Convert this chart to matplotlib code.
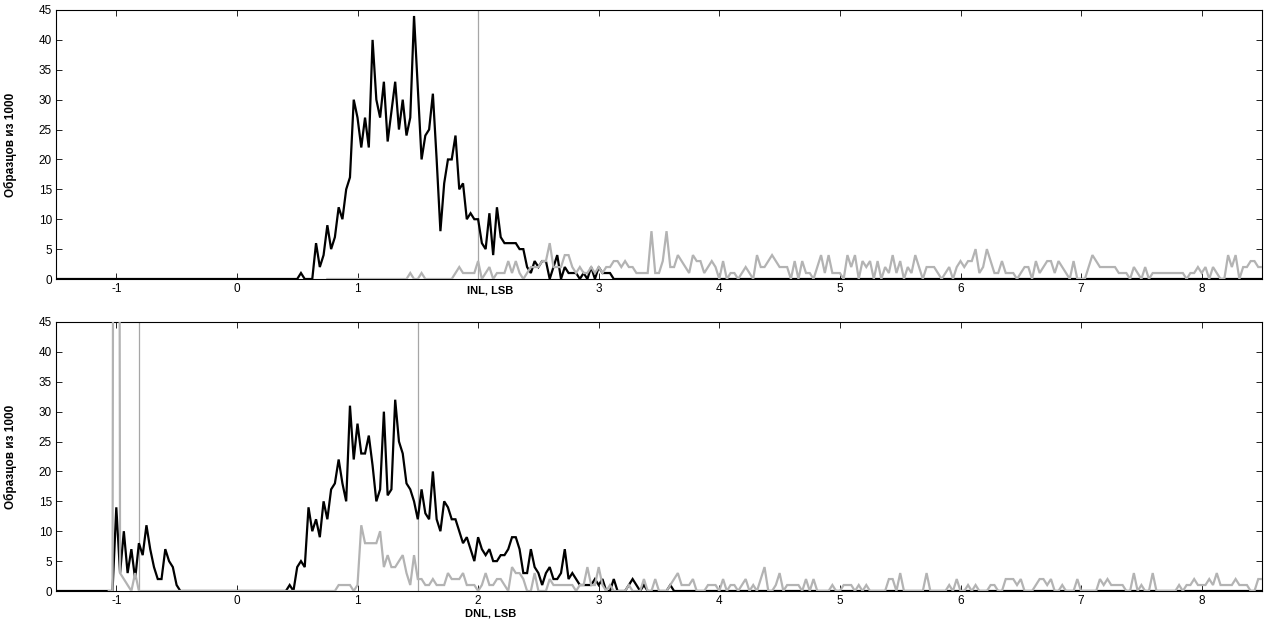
import numpy as np
import matplotlib
matplotlib.use("Agg")
import matplotlib.pyplot as plt

# ---------------- data (histogram counts, bin width 1/32 LSB) ----------------
STEP = 1 / 32
X_MIN, X_MAX = -1.5, 8.5

# INL panel
inl_black_start = 0.5
inl_black = [0, 1, 0, 0, 0, 6, 2, 4, 9, 5, 7, 12, 10, 15, 17, 30, 27, 22, 27, 22,
             40, 30, 27, 33, 23, 28, 33, 25, 30, 24, 27, 44, 32, 20, 24, 25, 31, 20, 8, 16,
             20, 20, 24, 15, 16, 10, 11, 10, 10, 6, 5, 11, 4, 12, 7, 6, 6, 6, 6, 5,
             5, 2, 1, 3, 2, 3, 3, 0, 2, 4, 0, 2, 1, 1, 1, 0, 1, 0, 2, 0,
             2, 1, 1, 1, 0]
inl_grey_start = 0.75
inl_grey = [0] * 20 + [
    0, 0, 1, 0, 0, 1, 0, 0, 0, 0, 0, 0, 0, 0, 1, 2, 1, 1, 1, 1,
    3, 0, 1, 2, 0, 1, 1, 1, 3, 1, 3, 1, 0, 1, 2, 2, 2, 3, 3, 6, 2, 2, 2, 4, 4, 2, 1, 2, 1, 1, 2, 1,
    2, 1, 2, 2, 3, 3, 2, 3, 2, 2, 1, 1, 1, 1, 8, 1, 1, 3, 8, 2, 2, 4, 3, 2, 1, 4, 3, 3, 1, 2, 3, 2,
    0, 3, 0, 1, 1, 0, 1, 2, 1, 0, 4, 2, 2, 3, 4, 3, 2, 2, 2, 0, 3, 0, 3, 1, 1, 0, 2, 4, 1, 4, 1, 1,
    1, 0, 4, 2, 4, 0, 3, 2, 3, 0, 3, 0, 2, 1, 4, 1, 3, 0, 2, 1, 4, 2, 0, 2, 2, 2, 1, 0, 1, 2, 0, 2,
    3, 2, 3, 3, 5, 1, 2, 5, 3, 1, 1, 3, 1, 1, 1, 0, 1, 2, 2, 0, 3, 1, 2, 3, 3, 1, 3, 2, 1, 0, 3, 0,
    0, 0, 2, 4, 3, 2, 2, 2, 2, 2, 1, 1, 1, 0, 2, 1, 0, 2, 0, 1, 1, 1, 1, 1, 1, 1, 1, 1, 0, 1, 1, 2,
    1, 2, 0, 2, 1, 0, 0, 4, 2, 4, 0, 2, 2, 3, 3, 2, 2]
inl_ref = [2.0]

# DNL panel
dnl_black_a_start = -1.03125
dnl_black_a = [0, 14, 3, 10, 3, 7, 2, 8, 6, 11, 7, 4, 2, 2, 7, 5, 4, 1, 0]
dnl_black_b_start = 0.375
dnl_black_b = [0, 0, 1, 0, 4, 5, 4, 14, 10, 12, 9, 15, 12, 17, 18, 22, 18, 15, 31, 22,
               28, 23, 23, 26, 21, 15, 17, 30, 16, 17, 32, 25, 23, 18, 17, 15, 12, 17, 13, 12,
               20, 12, 10, 15, 14, 12, 12, 10, 8, 9, 7, 5, 9, 7, 6, 7, 5, 5, 6, 6,
               7, 9, 9, 7, 3, 3, 7, 4, 3, 1, 3, 4, 2, 2, 3, 7, 2, 3, 2, 1,
               1, 1, 1, 2, 1, 2, 0, 0, 2, 0, 0, 0, 1, 2, 1, 0, 1, 0, 0, 0,
               0, 0, 0, 1, 0]
dnl_grey_a_start = -1.0625
dnl_grey_a = [0, 0, 400, 3, 2, 1, 0, 3, 0]
dnl_grey_b_start = 0.8125
dnl_grey_b = [
    0, 1, 1, 1, 1, 0, 1, 11, 8, 8, 8, 8, 10, 4, 6, 4, 4, 5, 6, 3, 1, 6, 2, 2, 1, 1, 2, 1, 1, 1,
    3, 2, 2, 2, 3, 1, 1, 1,
    0, 1, 3, 1, 1, 2, 2, 1, 0, 4, 3, 3, 2, 0, 0, 3, 0, 0, 0, 2, 1, 1, 1, 1, 1, 1, 0, 1, 1, 4,
    1, 1, 4, 1, 0, 1, 0, 0, 0, 0, 1, 0, 0, 0, 2, 0, 0,
    2, 0, 0, 0, 1, 2, 3, 1, 1, 1, 2, 0, 0, 0, 1, 1, 1, 0, 2, 0, 1, 1, 0, 1, 2, 0, 1, 0, 2, 4,
    0, 0, 1, 3, 0, 1, 1, 1, 1, 0, 2, 0, 2, 0, 0, 0, 0, 1, 0, 0, 1, 1, 1, 0, 1, 0, 1, 0, 0, 0,
    0, 0, 2, 2, 0, 3, 0, 0, 0, 0, 0, 0, 3, 0, 0, 0, 0, 0, 1, 0, 2, 0, 0, 1, 0, 1, 0, 0, 0, 1,
    1, 0, 0, 2, 2, 2, 1, 2, 0, 0, 0, 1, 2, 2, 1, 2, 0, 0, 1, 0, 0, 0, 2, 0, 0, 0, 0, 0, 2, 1,
    2, 1, 1, 1, 1, 0, 0, 3, 0, 1, 0, 0, 3, 0, 0, 0, 0, 0, 0, 1, 0, 1, 1, 2, 1, 1, 1, 2, 1, 3,
    1, 1, 1, 1, 2, 1, 1, 1, 0, 0, 2, 2]
dnl_ref = [-0.81, 1.5]

x_ticks = [-1, 0, 1, 2, 3, 4, 5, 6, 7, 8]
# in the INL panel the axis title sits on the tick-label row where "2" would be
inl_tick_labels = ["-1", "0", "1", "", "3", "4", "5", "6", "7", "8"]
dnl_tick_labels = ["-1", "0", "1", "2", "3", "4", "5", "6", "7", "8"]
y_ticks = [0, 5, 10, 15, 20, 25, 30, 35, 40, 45]
y_label = "Образцов из 1000"
x_labels = ["INL, LSB", "DNL, LSB"]

# ---------------- build grid ----------------
n = int(round((X_MAX - X_MIN) / STEP)) + 1
x = X_MIN + np.arange(n) * STEP


def series(*segments):
    y = np.zeros(n)
    for start, vals in segments:
        i0 = int(round((start - X_MIN) / STEP))
        v = np.asarray(vals, dtype=float)[: max(0, n - i0)]
        y[i0:i0 + len(v)] = v
    return y


def masked_series(start, vals):
    y = np.full(n, np.nan)
    i0 = int(round((start - X_MIN) / STEP))
    v = np.asarray(vals, dtype=float)[: max(0, n - i0)]
    y[i0:i0 + len(v)] = v
    return y


gap = int(round((dnl_grey_b_start - dnl_grey_a_start) / STEP)) - len(dnl_grey_a)
inl_b = series((inl_black_start, inl_black))
inl_g = masked_series(inl_grey_start, inl_grey)
dnl_b = series((dnl_black_a_start, dnl_black_a), (dnl_black_b_start, dnl_black_b))
dnl_g = masked_series(dnl_grey_a_start, dnl_grey_a + [0] * gap + dnl_grey_b)

# ---------------- figure ----------------
plt.rcParams['font.family'] = ['Liberation Sans', 'DejaVu Sans']
fig = plt.figure(figsize=(12.66, 6.23), dpi=100)
W, H = 1266, 623
left, right = 56 / W, 1262 / W
ax1 = fig.add_axes([left, 1 - 279 / H, right - left, 269 / H])
ax2 = fig.add_axes([left, 1 - 591 / H, right - left, 269 / H])

GREY = '#b3b3b3'
REF = '#a6a6a6'

panels = [(ax1, inl_b, inl_g, inl_ref, x_labels[0], -0.024, inl_tick_labels),
          (ax2, dnl_b, dnl_g, dnl_ref, x_labels[1], -0.066, dnl_tick_labels)]

for ax, yb, yg, refs, xl, lab_y, tlabels in panels:
    ax.plot(x, yb, color='black', lw=1.6, zorder=3, solid_joinstyle='miter')
    ax.plot(x, yg, color=GREY, lw=1.6, zorder=4, solid_joinstyle='miter')
    for r in refs:
        ax.axvline(r, color=REF, lw=0.9, zorder=2)
    ax.set_xlim(X_MIN, X_MAX)
    ax.set_ylim(0, 45)
    ax.set_xticks(x_ticks)
    ax.set_xticklabels(tlabels)
    ax.set_yticks(y_ticks)
    ax.tick_params(direction='in', length=4, width=0.6, top=True, right=True,
                   labelsize=8.5, pad=3, colors='black')
    for s in ax.spines.values():
        s.set_linewidth(0.8)
        s.set_zorder(2.5)
    ax.set_ylabel(y_label, fontsize=8.5, fontweight='bold',
                  family=['Liberation Sans Narrow', 'Liberation Sans', 'DejaVu Sans'])
    ax.yaxis.set_label_coords(-0.032, 0.5)
    ax.set_xlabel(xl, fontsize=8, fontweight='bold')
    ax.xaxis.set_label_coords(0.36, lab_y)

fig.savefig('out.png', dpi=100)
